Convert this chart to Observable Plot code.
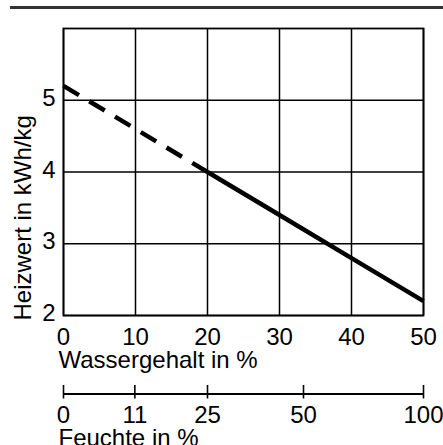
<!DOCTYPE html>
<html>
<head>
<meta charset="utf-8">
<script src="https://cdn.jsdelivr.net/npm/d3@7"></script>
<script src="https://cdn.jsdelivr.net/npm/@observablehq/plot@0.6"></script>
<style>
  html, body { margin: 0; padding: 0; background: #fff; }
  #wrap { position: relative; width: 443px; height: 445px; overflow: hidden; }
  #toprule { position: absolute; left: 10px; top: 6px; width: 433px; height: 2.5px; background: #333; }
  #wrap svg { display: block; }
</style>
</head>
<body>
<div id="wrap"><div id="toprule"></div></div>
<script>
// Data
const wassergehaltGestrichelt = [0, 20];
const heizwertGestrichelt = [5.2, 4.0];
const wassergehaltDurchgezogen = [20, 30, 40, 50];
const heizwertDurchgezogen = [4.0, 3.4, 2.8, 2.2];
const xTicks = [0, 10, 20, 30, 40, 50];
const yTicks = [2, 3, 4, 5];
const feuchteTicks = [0, 11, 25, 50, 100];
const xLabel = "Wassergehalt in %";
const yLabel = "Heizwert in kWh/kg";
const feuchteLabel = "Feuchte in %";

const dashed = wassergehaltGestrichelt.map((w, i) => ({w, h: heizwertGestrichelt[i]}));
const solid = wassergehaltDurchgezogen.map((w, i) => ({w, h: heizwertDurchgezogen[i]}));

const font = "'Liberation Sans', Arial, sans-serif";
const style = {fontFamily: font, fontSize: "24px", color: "#000", background: "transparent", overflow: "visible"};

const main = Plot.plot({
  width: 443,
  height: 380,
  marginTop: 28,
  marginBottom: 65,
  marginLeft: 63,
  marginRight: 20,
  style,
  x: {domain: [0, 50]},
  y: {domain: [2, 6]},
  marks: [
    Plot.gridX(xTicks, {stroke: "#000", strokeOpacity: 1, strokeWidth: 1.5}),
    Plot.gridY(yTicks, {stroke: "#000", strokeOpacity: 1, strokeWidth: 1.5}),
    Plot.frame({stroke: "#000", strokeWidth: 1.8}),
    Plot.axisX({ticks: xTicks, tickFormat: d => String(d), tickSize: 0, tickPadding: 12, label: null}),
    Plot.axisY({ticks: yTicks, tickFormat: d => String(d), tickSize: 0, tickPadding: 8, label: null, dy: -2}),
    Plot.line(dashed, {x: "w", y: "h", stroke: "#000", strokeWidth: 4.5, strokeDasharray: "18,12", strokeLinecap: "butt"}),
    Plot.line(solid, {x: "w", y: "h", stroke: "#000", strokeWidth: 4.5, strokeLinecap: "butt"}),
    Plot.text([xLabel], {frameAnchor: "bottom-left", textAnchor: "start", lineAnchor: "top", dx: -5, dy: 35, fill: "#000"}),
    Plot.text([yLabel], {frameAnchor: "bottom-left", textAnchor: "start", lineAnchor: "top", rotate: -90, dx: -50, dy: 5, fill: "#000"})
  ]
});

const sub = Plot.plot({
  width: 443,
  height: 65,
  marginTop: 5,
  marginBottom: 51.5,
  marginLeft: 63,
  marginRight: 20,
  style,
  x: {domain: [0, 50], axis: null},
  y: {domain: [0, 1], axis: null},
  marks: [
    Plot.ruleY([0], {stroke: "#000", strokeWidth: 2.2}),
    Plot.ruleX(feuchteTicks, {x: u => 100 * u / (100 + u), stroke: "#000", strokeWidth: 1.6, insetBottom: -5}),
    Plot.text(feuchteTicks, {x: u => 100 * u / (100 + u), text: d => String(d), frameAnchor: "bottom", lineAnchor: "top", dy: 11.5, fill: "#000"}),
    Plot.text([feuchteLabel], {frameAnchor: "bottom-left", textAnchor: "start", lineAnchor: "top", dx: -5, dy: 34.5, fill: "#000"})
  ]
});

const wrap = document.getElementById("wrap");
wrap.appendChild(main);
wrap.appendChild(sub);
</script>
</body>
</html>
